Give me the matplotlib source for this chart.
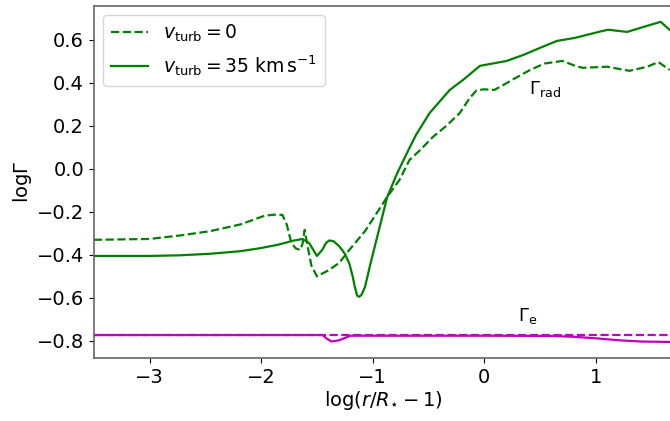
import numpy as np
import matplotlib
matplotlib.use("Agg")
import matplotlib.pyplot as plt

# log(r/R*-1) and log Gamma
x_rad0 = [-3.50, -3.00, -2.73, -2.46, -2.19, -2.06, -1.97, -1.88, -1.81, -1.77,
          -1.73, -1.69, -1.65, -1.63, -1.61, -1.58, -1.55, -1.50, -1.39, -1.30,
          -1.21, -1.07, -0.87, -0.76, -0.67, -0.58, -0.46, -0.34, -0.22, -0.13,
          -0.07, 0.00, 0.09, 0.17, 0.27, 0.41, 0.54, 0.70, 0.81, 0.88,
          1.10, 1.30, 1.46, 1.56, 1.66]
y_rad0 = [-0.330, -0.326, -0.310, -0.290, -0.259, -0.235, -0.218, -0.213, -0.214, -0.260,
          -0.344, -0.370, -0.377, -0.350, -0.284, -0.370, -0.450, -0.500, -0.470, -0.437,
          -0.377, -0.290, -0.130, -0.051, 0.042, 0.085, 0.149, 0.200, 0.260, 0.330,
          0.365, 0.370, 0.367, 0.390, 0.420, 0.460, 0.490, 0.502, 0.480, 0.470,
          0.475, 0.456, 0.475, 0.497, 0.460]

x_rad35 = [-3.50, -3.00, -2.73, -2.46, -2.19, -2.02, -1.85, -1.72, -1.63, -1.57,
           -1.50, -1.45, -1.42, -1.39, -1.35, -1.30, -1.25, -1.21, -1.18, -1.16,
           -1.14, -1.12, -1.10, -1.07, -1.02, -0.96, -0.87, -0.78, -0.68, -0.61,
           -0.49, -0.31, -0.19, -0.04, 0.20, 0.35, 0.50, 0.65, 0.81, 1.04,
           1.11, 1.28, 1.40, 1.58, 1.66]
y_rad35 = [-0.405, -0.405, -0.402, -0.395, -0.383, -0.370, -0.353, -0.335, -0.326, -0.345,
           -0.405, -0.375, -0.345, -0.333, -0.337, -0.360, -0.395, -0.440, -0.500, -0.550,
           -0.590, -0.595, -0.585, -0.550, -0.440, -0.316, -0.130, -0.019, 0.088, 0.160,
           0.260, 0.367, 0.414, 0.479, 0.502, 0.530, 0.563, 0.595, 0.609, 0.639,
           0.647, 0.637, 0.656, 0.684, 0.647]

x_e0 = [-3.50, 1.66]
y_e0 = [-0.771, -0.771]

x_e35 = [-3.50, -1.45, -1.41, -1.37, -1.30, -1.20, 0.00, 0.60, 0.80, 1.00, 1.20, 1.40, 1.66]
y_e35 = [-0.773, -0.773, -0.790, -0.803, -0.797, -0.776, -0.776, -0.777, -0.781, -0.788, -0.797, -0.803, -0.805]

GREEN = "green"
MAGENTA = "m"
SPINE = "0.4"

plt.rcParams["font.size"] = 14

fig = plt.figure(figsize=(6.7, 4.21), dpi=100)
ax = fig.add_axes([0.140, 0.150, 0.866, 0.836])

ax.plot(x_rad0, y_rad0, ls="--", color=GREEN, lw=1.6, label=r"$v_{\rm turb}=0$")
ax.plot(x_rad35, y_rad35, ls="-", color=GREEN, lw=1.6,
        label=r"$v_{\rm turb}=35\ {\rm km\,s^{-1}}$")
ax.plot(x_e0, y_e0, ls="--", color=MAGENTA, lw=1.6)
ax.plot(x_e35, y_e35, ls="-", color=MAGENTA, lw=1.6)

ax.text(0.40, 0.37, r"$\Gamma_{\rm rad}$", fontsize=13, va="center")
ax.text(0.30, -0.684, r"$\Gamma_{\rm e}$", fontsize=13, va="center")

ax.set_xlim(-3.5, 1.7)
ax.set_ylim(-0.879, 0.758)
ax.set_xticks([-3, -2, -1, 0, 1])
ax.set_yticks([-0.8, -0.6, -0.4, -0.2, 0.0, 0.2, 0.4, 0.6])
ax.set_xlabel(r"log$(r/R_{\star}-1)$", labelpad=2)
ax.set_ylabel(r"log$\Gamma$", labelpad=2)

for spine in ax.spines.values():
    spine.set_color(SPINE)
    spine.set_linewidth(1.2)

ax.legend(loc="upper left", fontsize=13.5)

fig.savefig("out.png", dpi=100)
